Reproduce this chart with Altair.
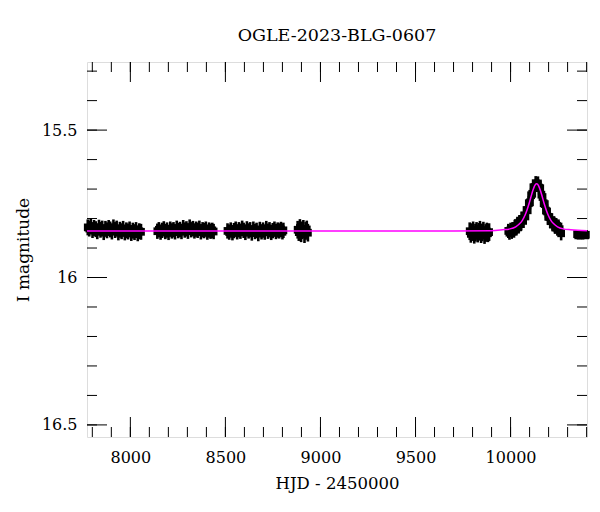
import altair as alt
import pandas as pd

title_text = "OGLE-2023-BLG-0607"
x_title = "HJD - 2450000"
y_title = "I magnitude"

x_domain = [7772, 10402]
y_domain = [15.269, 16.541]

x_major = [8000, 8500, 9000, 9500, 10000]
x_minor = [7800, 7900, 8000, 8100, 8200, 8300, 8400, 8500, 8600, 8700, 8800, 8900,
           9000, 9100, 9200, 9300, 9400, 9500, 9600, 9700, 9800, 9900, 10000, 10100,
           10200, 10300, 10400]
y_major = [15.5, 16.0, 16.5]
y_minor = [15.3, 15.4, 15.5, 15.6, 15.7, 15.8, 15.9, 16.0, 16.1, 16.2, 16.3, 16.4, 16.5]

hjd_s1 = [7776, 7784, 7792, 7801, 7809, 7818, 7826, 7835, 7843, 7852, 7860, 7869, 7877,
          7886, 7894, 7903, 7911, 7920, 7928, 7937, 7945, 7954, 7962, 7971, 7979, 7988,
          7996, 8005, 8013, 8022, 8030, 8039, 8047, 8056]
mag_s1 = [15.830, 15.834, 15.827, 15.839, 15.832, 15.836, 15.843, 15.831, 15.838, 15.834,
          15.846, 15.835, 15.840, 15.832, 15.837, 15.844, 15.830, 15.839, 15.834, 15.847,
          15.838, 15.843, 15.835, 15.847, 15.840, 15.844, 15.837, 15.849, 15.841, 15.846,
          15.839, 15.850, 15.843, 15.845]

hjd_s2 = [8142, 8150, 8159, 8167, 8176, 8184, 8193, 8201, 8210, 8218, 8227, 8235, 8244,
          8252, 8261, 8269, 8278, 8286, 8295, 8303, 8312, 8320, 8329, 8337, 8346, 8354,
          8363, 8371, 8380, 8388, 8397, 8405, 8414, 8422, 8431, 8438]
mag_s2 = [15.843, 15.838, 15.846, 15.840, 15.835, 15.844, 15.839, 15.847, 15.836, 15.842,
          15.838, 15.845, 15.833, 15.841, 15.837, 15.844, 15.831, 15.839, 15.835, 15.843,
          15.829, 15.838, 15.834, 15.842, 15.836, 15.840, 15.833, 15.845, 15.838, 15.841,
          15.836, 15.846, 15.839, 15.843, 15.840, 15.844]

hjd_s3 = [8511, 8520, 8528, 8537, 8545, 8554, 8562, 8571, 8579, 8588, 8596, 8605, 8613,
          8622, 8630, 8639, 8647, 8656, 8664, 8673, 8681, 8690, 8698, 8707, 8715, 8724,
          8732, 8741, 8749, 8758, 8766, 8775, 8783, 8792, 8800, 8805]
mag_s3 = [15.842, 15.846, 15.839, 15.848, 15.841, 15.836, 15.845, 15.838, 15.843, 15.833,
          15.840, 15.847, 15.835, 15.842, 15.838, 15.849, 15.836, 15.844, 15.840, 15.851,
          15.837, 15.845, 15.839, 15.846, 15.834, 15.843, 15.838, 15.847, 15.841, 15.836,
          15.844, 15.839, 15.842, 15.837, 15.845, 15.840]

hjd_s4 = [8880, 8886, 8892, 8898, 8904, 8910, 8916, 8922, 8928, 8934]
mag_s4 = [15.838, 15.846, 15.832, 15.850, 15.840, 15.835, 15.853, 15.842, 15.837, 15.848]

hjd_s5 = [9785, 9791, 9797, 9803, 9809, 9815, 9821, 9827, 9833, 9839, 9845, 9851, 9857,
          9863, 9869, 9875, 9881, 9887]
mag_s5 = [15.843, 15.852, 15.846, 15.840, 15.855, 15.848, 15.842, 15.851, 15.845, 15.838,
          15.853, 15.847, 15.841, 15.856, 15.849, 15.844, 15.850, 15.846]

hjd_s6 = [9988, 9994, 10000, 10006, 10012, 10018, 10024, 10030, 10036, 10042, 10048, 10054,
          10060, 10066, 10072, 10078, 10084, 10090, 10096, 10102, 10108, 10114, 10120, 10126,
          10132, 10138, 10144, 10150, 10156, 10162, 10168, 10174, 10180, 10186, 10192, 10198,
          10204, 10210, 10216, 10222, 10228, 10234, 10240, 10246, 10252, 10258, 10266]
mag_s6 = [15.842, 15.848, 15.838, 15.845, 15.836, 15.841, 15.826, 15.834, 15.818, 15.827,
          15.812, 15.819, 15.802, 15.808, 15.789, 15.793, 15.771, 15.772, 15.748, 15.745,
          15.721, 15.716, 15.694, 15.693, 15.680, 15.686, 15.681, 15.695, 15.697, 15.719,
          15.727, 15.748, 15.751, 15.773, 15.776, 15.794, 15.795, 15.809, 15.807, 15.820,
          15.816, 15.828, 15.822, 15.834, 15.827, 15.836, 15.850]

hjd_s7 = [10350, 10356, 10362, 10368, 10374, 10380, 10386, 10392, 10396]
mag_s7 = [15.853, 15.857, 15.852, 15.858, 15.854, 15.856, 15.852, 15.857, 15.855]

season_err = [0.027, 0.026, 0.026, 0.030, 0.030, 0.024, 0.010]

model_hjd = [7772, 9700, 9900, 9957, 9997, 10027, 10047, 10062, 10077, 10087, 10097, 10107,
             10117, 10127, 10137, 10147, 10157, 10167, 10177, 10187, 10197, 10212, 10227,
             10247, 10277, 10317, 10402]
model_mag = [15.842, 15.842, 15.841, 15.838, 15.835, 15.828, 15.818, 15.806, 15.787, 15.770,
             15.750, 15.727, 15.705, 15.688, 15.682, 15.688, 15.705, 15.727, 15.750, 15.770,
             15.787, 15.806, 15.818, 15.828, 15.835, 15.838, 15.841]

seasons = [(hjd_s1, mag_s1), (hjd_s2, mag_s2), (hjd_s3, mag_s3), (hjd_s4, mag_s4),
           (hjd_s5, mag_s5), (hjd_s6, mag_s6), (hjd_s7, mag_s7)]
rows = []
for (hs, ms), e in zip(seasons, season_err):
    for h, m in zip(hs, ms):
        rows.append({"hjd": h, "mag": m, "lo": m - e, "hi": m + e})
df = pd.DataFrame(rows)
model_df = pd.DataFrame({"hjd": model_hjd, "mag": model_mag})

W, H = 500, 375
FONT = "DejaVu Serif"

xs = alt.Scale(domain=x_domain, nice=False, zero=False)
ys = alt.Scale(domain=y_domain, reverse=True, nice=False, zero=False)

x_axis = alt.Axis(values=x_major, format="d", ticks=False, domain=False, grid=False,
                  labelFont=FONT, labelFontSize=16, labelColor="black", labelPadding=12,
                  title=x_title, titleFont=FONT, titleFontSize=16.5, titleFontWeight="normal",
                  titleColor="black", titlePadding=10)
y_axis = alt.Axis(values=y_major, format=".1~f", ticks=False, domain=False, grid=False,
                  labelFont=FONT, labelFontSize=16, labelColor="black", labelPadding=10,
                  title=y_title, titleFont=FONT, titleFontSize=17, titleFontWeight="normal",
                  titleColor="black", titlePadding=9)

X = alt.X("hjd:Q", scale=xs, axis=x_axis, title=x_title)

errbars = alt.Chart(df).mark_rule(color="black", strokeWidth=2.6).encode(
    x=X,
    y=alt.Y("lo:Q", scale=ys, axis=y_axis, title=y_title),
    y2="hi:Q",
)
points = alt.Chart(df).mark_square(color="black", size=60, opacity=1, filled=True).encode(
    x=X,
    y=alt.Y("mag:Q", scale=ys, axis=y_axis, title=y_title),
)
model = alt.Chart(model_df).mark_line(color="#ff00ff", strokeWidth=1.5, interpolate="monotone",
                                      clip=True).encode(
    x=X,
    y=alt.Y("mag:Q", scale=ys, axis=y_axis, title=y_title),
)

def xticks(vals, y0, y1):
    return alt.Chart(pd.DataFrame({"v": vals})).mark_rule(color="black", strokeWidth=1).encode(
        x=alt.X("v:Q", scale=xs, axis=x_axis, title=x_title), y=alt.value(y0), y2=alt.value(y1))

def yticks(vals, x0, x1):
    return alt.Chart(pd.DataFrame({"v": vals})).mark_rule(color="black", strokeWidth=1).encode(
        y=alt.Y("v:Q", scale=ys, axis=y_axis, title=y_title), x=alt.value(x0), x2=alt.value(x1))

tick_layers = [
    xticks(x_minor, H, H - 10), xticks(x_major, H, H - 20),
    xticks(x_minor, 0, 10), xticks(x_major, 0, 20),
    yticks(y_minor, 0, 10), yticks(y_major, 0, 20),
    yticks(y_minor, W, W - 10), yticks(y_major, W, W - 20),
]

chart = alt.layer(errbars, points, model, *tick_layers).properties(
    width=W, height=H,
    title=alt.TitleParams(title_text, font=FONT, fontSize=17.5, fontWeight="normal",
                          color="black", anchor="middle", baseline="alphabetic", offset=3),
    autosize=alt.AutoSizeParams(type="none"),
    padding={"left": 79, "top": 54, "right": 5, "bottom": 60},
).configure_view(stroke="black", strokeWidth=1).configure(background="white")

chart.save("out.html", embed_options={"renderer": "svg", "actions": False})
